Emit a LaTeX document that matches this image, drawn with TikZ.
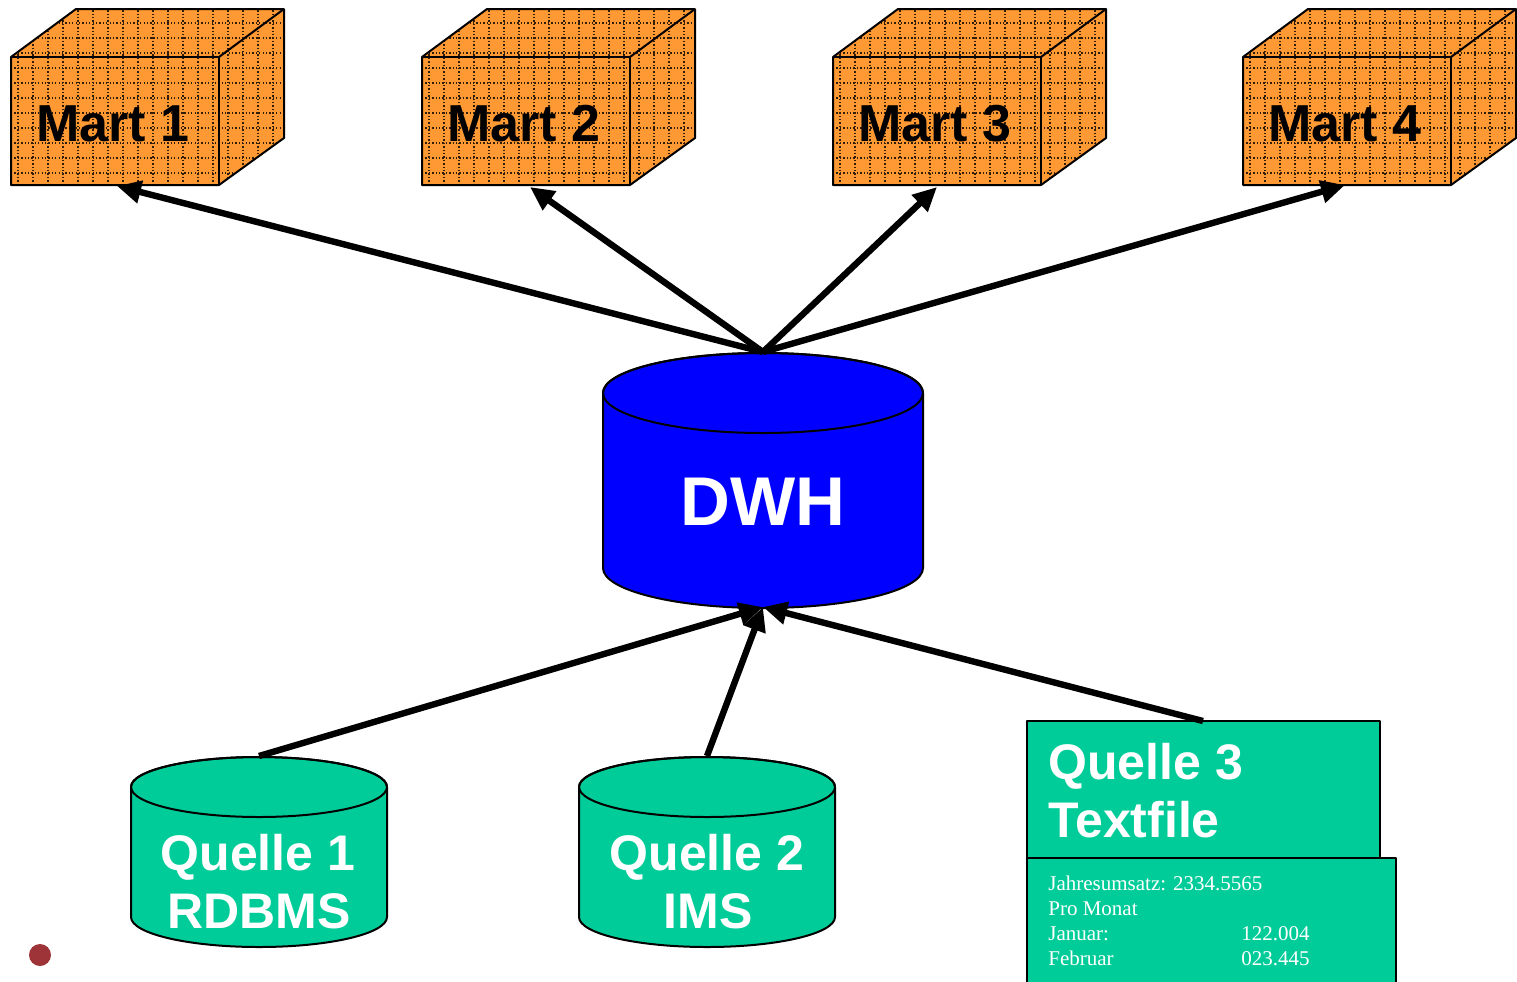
\documentclass[tikz,border=0pt]{standalone}
\usepackage{fontspec}
\setmainfont{Liberation Serif}
\setsansfont{Liberation Sans}
\usetikzlibrary{arrows.meta}
\definecolor{martorange}{RGB}{255,153,51}
\definecolor{gridbrown}{RGB}{50,30,8}
\definecolor{srcgreen}{RGB}{0,204,153}
\definecolor{dwhblue}{RGB}{0,0,255}
\definecolor{dotred}{RGB}{158,52,56}
\begin{document}
\begin{tikzpicture}[x=0.5pt,y=-0.5pt,
  edge/.style={line width=3.2pt, -{Triangle[length=12pt,width=11pt]}},
  outline/.style={draw=black, line width=1pt, line join=round},
  griddot/.style={draw=gridbrown, line width=0.65pt, dash pattern=on 0.65pt off 1.05pt},
  martlabel/.style={font=\sffamily\bfseries\fontsize{26}{31}\selectfont, anchor=base, inner sep=0pt},
  srclabel/.style={font=\sffamily\bfseries\fontsize{25}{30}\selectfont, text=white, anchor=base, inner sep=0pt},
  filetext/.style={font=\fontsize{10.5}{12.5}\selectfont, text=white, anchor=base west, inner sep=0pt}
]
\useasboundingbox (0,0) rectangle (1517,981);
\clip (0,0) rectangle (1517,981);

% data mart cubes
\foreach \i/\x in {1/11, 2/422, 3/833, 4/1243} {
  \begin{scope}
    \clip (\x,185) -- (\x,57) -- ({\x+65},9) -- ({\x+273},9) -- ({\x+273},138) -- ({\x+208},185) -- cycle;
    \fill[martorange] (\x,0) rectangle ({\x+280},190);
    \foreach \k in {0,...,18} \draw[griddot] ({\x+7+15*\k},0) -- ++(0,190);
    \foreach \k in {0,...,12} \draw[griddot] (\x,{8+15*\k}) -- ++(280,0);
  \end{scope}
  \draw[outline] (\x,185) -- (\x,57) -- ({\x+65},9) -- ({\x+273},9) -- ({\x+273},138) -- ({\x+208},185) -- cycle;
  \draw[outline] (\x,57) -- ({\x+208},57) -- ({\x+208},185);
  \draw[outline] ({\x+208},57) -- ({\x+273},9);
  \node[martlabel] (mart\i) at ({\x+102},141) {Mart \i};
}

% central warehouse cylinder
\filldraw[outline, fill=dwhblue] (603,393) -- (603,568)
  arc[start angle=180, end angle=360, x radius=80pt, y radius=20pt]
  -- (923,393)
  arc[start angle=0, end angle=180, x radius=80pt, y radius=20pt] -- cycle;
\draw[outline] (763,393) ellipse[x radius=80pt, y radius=20pt];
\node[srclabel, font=\sffamily\bfseries\fontsize{34.5}{40}\selectfont] (dwh) at (763,525) {DWH};

% source cylinders
\foreach \n/\cx in {1/259, 2/707} {
  \filldraw[outline, fill=srcgreen] ({\cx-128},787) -- ({\cx-128},917)
    arc[start angle=180, end angle=360, x radius=64pt, y radius=15pt]
    -- ({\cx+128},787)
    arc[start angle=0, end angle=180, x radius=64pt, y radius=15pt] -- cycle;
  \draw[outline] (\cx,787) ellipse[x radius=64pt, y radius=15pt];
}
\node[srclabel] (q1a) at (258,870) {Quelle 1};
\node[srclabel] (q1b) at (259,928) {RDBMS};
\node[srclabel] (q2a) at (707,870) {Quelle 2};
\node[srclabel] (q2b) at (708,928) {IMS};

% text file source
\filldraw[outline, fill=srcgreen] (1027,858) rectangle (1396,1000);
\filldraw[outline, fill=srcgreen] (1027,721) rectangle (1380,858);
\node[srclabel, anchor=base west] (q3a) at (1048,779) {Quelle 3};
\node[srclabel, anchor=base west] (q3b) at (1048,837) {Textfile};
\node[filetext] (f1) at (1048,890) {Jahresumsatz: 2334.5565};
\node[filetext] (f2) at (1048,915) {Pro Monat};
\node[filetext] (f3) at (1048,940) {Januar:};
\node[filetext] (f4) at (1048,965) {Februar};
\node[filetext] (f3v) at (1241,940) {122.004};
\node[filetext] (f4v) at (1241,965) {023.445};

% connector end points
\coordinate (dwhtop) at (763,352);
\coordinate (dwhbot) at (763,607);
\coordinate (mart1in) at (117,186);
\coordinate (mart2in) at (530,187);
\coordinate (mart3in) at (937,187);
\coordinate (mart4in) at (1345,185);
\coordinate (q1top) at (259,756);
\coordinate (q2top) at (707,756);
\coordinate (q3top) at (1203,721);

\foreach \m in {1,...,4} \draw[edge] (dwhtop) -- (mart\m in);
\draw[edge] (q1top) -- (dwhbot);
\draw[edge] (q2top) -- (dwhbot);
\draw[edge] (q3top) -- (dwhbot);

% marker dot
\fill[dotred] (40,955) circle[radius=5.5pt];
\end{tikzpicture}
\end{document}
